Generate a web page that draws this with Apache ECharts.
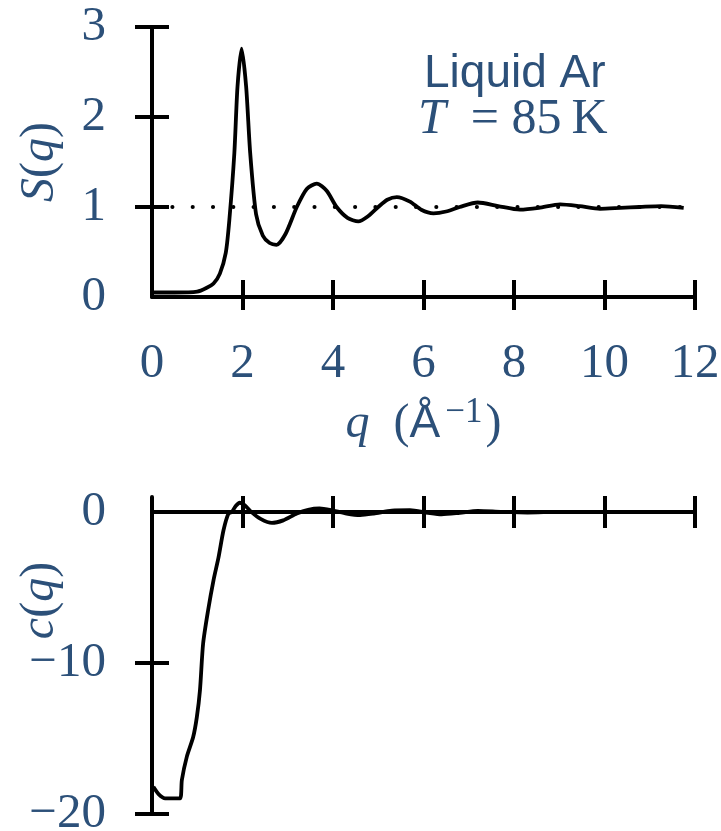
<!DOCTYPE html>
<html>
<head>
<meta charset="utf-8">
<script src="https://cdn.jsdelivr.net/npm/echarts@6/dist/echarts.min.js"></script>
<style>
html,body{margin:0;padding:0;background:#fff}
#main{width:721px;height:831px}
</style>
</head>
<body>
<div id="main"></div>
<script>
// structure factor S(q)
var sQ = [0, 0.5, 1.0, 1.2, 1.36, 1.5, 1.63, 1.71, 1.82, 1.89, 1.98, 2.08, 2.17, 2.3, 2.45, 2.6, 2.75, 2.95, 3.2, 3.42, 3.64, 3.86, 4.08, 4.32, 4.56, 4.78, 5.0, 5.2, 5.41, 5.7, 5.95, 6.22, 6.5, 6.8, 7.2, 7.65, 8.13, 8.55, 9.02, 9.45, 9.9, 10.35, 10.78, 11.25, 11.75];
var sVal = [0.05, 0.05, 0.06, 0.1, 0.15, 0.26, 0.49, 0.86, 1.6, 2.34, 2.76, 2.34, 1.6, 0.92, 0.68, 0.6, 0.58, 0.7, 1.0, 1.2, 1.26, 1.18, 1.0, 0.88, 0.84, 0.9, 1.0, 1.08, 1.11, 1.06, 0.97, 0.93, 0.95, 1.0, 1.05, 1.01, 0.97, 0.99, 1.03, 1.01, 0.98, 0.99, 1.0, 1.01, 0.99];
// direct correlation function c(q)
var cQ = [0.03, 0.15, 0.29, 0.45, 0.62, 0.66, 0.77, 0.91, 0.99, 1.06, 1.13, 1.24, 1.36, 1.47, 1.58, 1.69, 1.76, 1.85, 1.94, 2.05, 2.2, 2.4, 2.65, 2.9, 3.2, 3.45, 3.7, 4.0, 4.3, 4.6, 4.9, 5.3, 5.7, 6.1, 6.4, 6.8, 7.2, 7.7, 8.3, 9.0, 10.0, 11.0, 12.0];
var cVal = [-18.2, -18.7, -18.96, -18.96, -18.96, -17.75, -16.2, -14.9, -13.6, -11.8, -8.7, -6.5, -4.5, -3.0, -1.2, -0.09, 0.0, 0.4, 0.62, 0.45, 0.0, -0.45, -0.72, -0.55, -0.1, 0.15, 0.24, 0.1, -0.1, -0.2, -0.1, 0.1, 0.13, -0.05, -0.15, -0.05, 0.08, 0.02, -0.03, 0.02, 0.0, 0.01, 0.0];
// dotted reference S = 1
var refQ = [0.45, 12];
var refVal = [1, 1];

var xTicks = [2, 4, 6, 8, 10, 12];
var sTicks = [1, 2, 3];
var cTicks = [-20, -10];
var cLabels = [-20, -10, 0];

var blue = '#2c5079';
var serif = 'Liberation Serif';

function zip(a, b) {
	var out = [];
	for (var i = 0; i < a.length; i++) out.push([a[i], b[i]]);
	return out;
}
function fmtC(v) { return cLabels.indexOf(v) < 0 ? '' : String(v).replace('-', '\u2212'); }

var black = {color: '#000', width: 4};
var richName = {
	i: {fontFamily: serif, fontStyle: 'italic', fontWeight: 'normal', fontSize: 48, color: blue},
	r: {fontFamily: serif, fontWeight: 'normal', fontSize: 48, color: blue},
	s: {fontFamily: 'Liberation Sans', fontWeight: 'normal', fontSize: 46, color: blue},
	sup: {fontFamily: serif, fontWeight: 'normal', fontSize: 35, color: blue, verticalAlign: 'top', padding: [0, 3, 24, 5]}
};

// each axis is drawn twice so the ticks cross the line
function xAx(grid, labels, inside, len) {
	return {
		gridIndex: grid, type: 'value', position: 'bottom', min: 0, max: 12, interval: 2,
		axisLine: {show: !inside, onZero: true, lineStyle: black},
		axisTick: {show: true, customValues: xTicks, inside: inside, length: len, lineStyle: black},
		axisLabel: labels ? {show: true, margin: 43, color: blue, fontFamily: serif, fontSize: 49} : {show: false},
		splitLine: {show: false}
	};
}
function yAx(grid, mn, mx, step, ticks, labels, inside) {
	return {
		gridIndex: grid, type: 'value', position: 'left', min: mn, max: mx, interval: step,
		axisLine: {show: !inside, onZero: false, lineStyle: black},
		axisTick: {show: true, customValues: ticks, inside: inside, length: 17, lineStyle: black},
		axisLabel: labels ? {show: true, margin: 46, color: blue, fontFamily: serif, fontSize: 49, formatter: labels} : {show: false},
		splitLine: {show: false}
	};
}

var xs = [
	xAx(0, true, false, 13),
	xAx(0, false, true, 17),
	xAx(1, false, false, 16),
	xAx(1, false, true, 16)
];
xs[0].name = '{i|q}{r|\u2002(}{s|\u00c5}{sup|\u22121}{r|)}';
xs[0].nameLocation = 'middle';
xs[0].nameGap = 98;
xs[0].nameMoveOverlap = false;
xs[0].nameTextStyle = {rich: richName};

var ys = [
	yAx(0, 0, 3, 1, sTicks, '{value}', false),
	yAx(0, 0, 3, 1, sTicks, null, true),
	yAx(1, -20, 1, 10, cTicks, fmtC, false),
	yAx(1, -20, 1, 10, cTicks, null, true)
];
ys[0].name = '{i|S}{r|(}{i|q}{r|)}';
ys[2].name = '{i|c}{r|(}{i|q}{r|)}';
[ys[0], ys[2]].forEach(function (a) {
	a.nameLocation = 'middle';
	a.nameRotate = 90;
	a.nameGap = 88;
	a.nameMoveOverlap = false;
});
ys[0].nameTextStyle = {rich: richName};
ys[2].nameTextStyle = {rich: richName, padding: [0, 0, 0, 110]};

var chart = echarts.init(document.getElementById('main'));
chart.setOption({
	animation: false,
	backgroundColor: '#fff',
	title: [
		{text: 'Liquid Ar', left: 419, top: 46,
		 textStyle: {fontFamily: 'Liberation Sans', fontWeight: 'normal', fontSize: 46, color: blue}},
		{text: '{t|T}{n|\u2002= 85\u2009K}', left: 413, top: 90,
		 textStyle: {fontWeight: 'normal', rich: {
			t: {fontFamily: serif, fontStyle: 'italic', fontWeight: 'normal', fontSize: 50, color: blue},
			n: {fontFamily: serif, fontWeight: 'normal', fontSize: 50, color: blue}
		 }}}
	],
	grid: [
		{left: 152, top: 27, width: 543, height: 270, outerBoundsMode: 'none'},
		{left: 152, top: 497, width: 543, height: 317, outerBoundsMode: 'none'}
	],
	xAxis: xs,
	yAxis: ys,
	series: [
		{type: 'line', xAxisIndex: 0, yAxisIndex: 0, data: zip(refQ, refVal), showSymbol: false, silent: true,
		 lineStyle: {color: '#000', width: 4, type: [0.1, 20.2], cap: 'round'}},
		{type: 'line', xAxisIndex: 0, yAxisIndex: 0, data: zip(sQ, sVal), showSymbol: false, smooth: 0.25,
		 lineStyle: {color: '#000', width: 3.8}},
		{type: 'line', xAxisIndex: 2, yAxisIndex: 2, data: zip(cQ, cVal), showSymbol: false, smooth: 0.25,
		 lineStyle: {color: '#000', width: 3.8}}
	]
});
</script>
</body>
</html>
